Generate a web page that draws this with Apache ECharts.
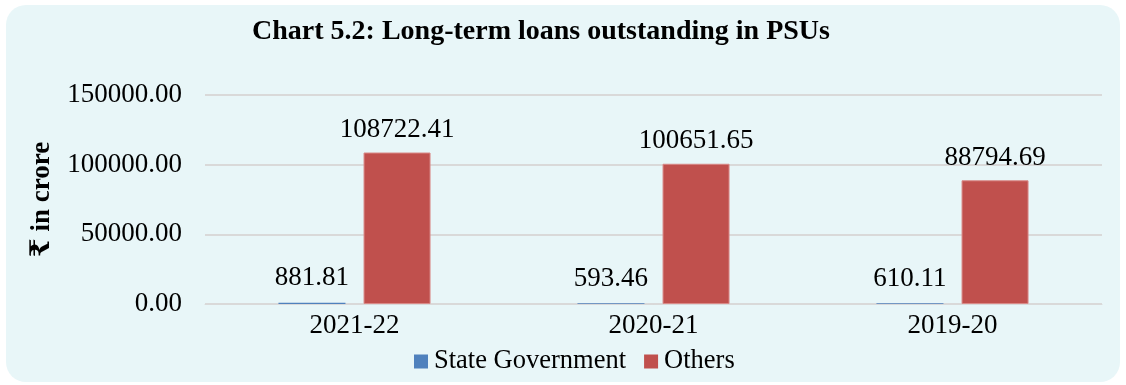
<!DOCTYPE html>
<html>
<head>
<meta charset="utf-8">
<script src="https://cdn.jsdelivr.net/npm/echarts@6/dist/echarts.min.js"></script>
<style>
html,body{margin:0;padding:0;background:#fff;}
#c{width:1126px;height:385px;}
</style>
</head>
<body>
<div id="c"></div>
<script>
const categories = ['2021-22', '2020-21', '2019-20'];
const stateGovt = [881.81, 593.46, 610.11];
const others = [108722.41, 100651.65, 88794.69];
const yTicks = [0, 50000, 100000, 150000];

const FONT = '"Liberation Serif", "Times New Roman", "DejaVu Serif", serif';
const chart = echarts.init(document.getElementById('c'));
chart.setOption({
  backgroundColor: '#ffffff',
  animation: false,
  textStyle: { fontFamily: FONT },
  graphic: [{
    type: 'rect', z: -10, silent: true,
    shape: { x: 6, y: 5, width: 1114, height: 377, r: 20 },
    style: { fill: '#E8F6F8' }
  }],
  title: {
    text: 'Chart 5.2: Long-term loans outstanding in PSUs',
    left: 536, top: 13, textAlign: 'center',
    textStyle: { fontFamily: FONT, fontWeight: 'bold', fontSize: 28, color: '#000' }
  },
  legend: {
    bottom: 5, left: 409,
    itemWidth: 14, itemHeight: 14, itemGap: 18,
    icon: 'rect',
    itemStyle: { borderWidth: 0 },
    textStyle: { fontFamily: FONT, fontSize: 26.5, color: '#000', padding: [0, 0, 0, 1] },
    data: ['State Government', 'Others']
  },
  grid: { left: 205, right: 24, top: 95, bottom: 81 },
  xAxis: {
    type: 'category', data: categories,
    axisLine: { lineStyle: { color: '#d9d9d9', width: 1 } },
    axisTick: { show: false },
    axisLabel: { fontFamily: FONT, fontSize: 27, color: '#000', margin: 8 }
  },
  yAxis: {
    type: 'value', min: yTicks[0], max: yTicks[yTicks.length - 1], interval: 50000,
    name: '₹ in crore', nameLocation: 'middle', nameGap: 149, nameRotate: 90,
    nameTextStyle: { fontFamily: FONT, fontWeight: 'bold', fontSize: 27, color: '#000' },
    axisLine: { show: false }, axisTick: { show: false },
    splitLine: { lineStyle: { color: '#d9d9d9', width: 2 } },
    axisLabel: { fontFamily: FONT, fontSize: 27, color: '#000', margin: 23,
      formatter: v => v.toFixed(2) }
  },
  series: [
    {
      name: 'State Government', type: 'bar', data: stateGovt,
      barWidth: 67, barGap: '27%',
      itemStyle: { color: '#4F81BD' },
      label: { show: true, position: 'top', distance: 11, fontFamily: FONT, fontSize: 27, color: '#000',
        formatter: p => p.value.toFixed(2) }
    },
    {
      name: 'Others', type: 'bar', data: others,
      barWidth: 67,
      itemStyle: { color: '#C0504D', borderColor: '#D98A88', borderWidth: 1 },
      label: { show: true, position: 'top', distance: 9, fontFamily: FONT, fontSize: 27, color: '#000',
        formatter: p => p.value.toFixed(2) }
    }
  ]
});
</script>
</body>
</html>
